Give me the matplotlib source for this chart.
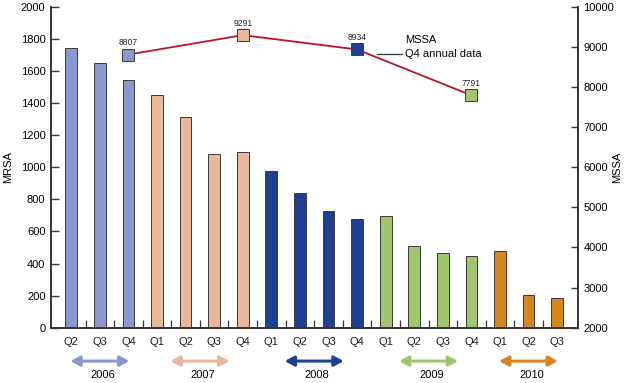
import matplotlib
matplotlib.use("Agg")
import matplotlib.pyplot as plt
import numpy as np

plt.rcParams['font.family'] = ['Liberation Sans', 'DejaVu Sans']

quarters = ["Q2", "Q3", "Q4",
            "Q1", "Q2", "Q3", "Q4",
            "Q1", "Q2", "Q3", "Q4",
            "Q1", "Q2", "Q3", "Q4",
            "Q1", "Q2", "Q3"]
bar_year = ["2006"] * 3 + ["2007"] * 4 + ["2008"] * 4 + ["2009"] * 4 + ["2010"] * 3
mrsa = [1745, 1650, 1545, 1448, 1310, 1084, 1095, 974, 837, 727, 679, 694,
        509, 463, 445, 480, 202, 185]
years = ["2006", "2007", "2008", "2009", "2010"]
year_colors = {"2006": "#8b97d1", "2007": "#e8b79c", "2008": "#1e3f92",
               "2009": "#9fc66c", "2010": "#d6861f"}
mssa_years = ["2006", "2007", "2008", "2009"]
mssa = [8807, 9291, 8934, 7791]

FS = 8

fig = plt.figure(figsize=(6.31, 3.83), dpi=100)
ax = fig.add_axes([51 / 631, 1 - 327.7 / 383, 526.7 / 631, 321 / 383])
ax2 = ax.twinx()

x = np.arange(len(mrsa))
colors = [year_colors[y] for y in bar_year]
ax.bar(x, mrsa, width=0.41, color=colors, edgecolor="#3a3a3a", linewidth=0.7, zorder=2)

ax.set_xlim(-0.71, len(mrsa) - 1 + 0.72)
ax.set_ylim(0, 2000)
ax.set_yticks(np.arange(0, 2001, 200))
ax2.set_ylim(2000, 10000)
ax2.set_yticks(np.arange(2000, 10001, 1000))

ax.set_xticks(x)
ax.set_xticklabels(quarters)
ax.set_xticks(x[:-1] + 0.5, minor=True)
ax.tick_params(axis="x", which="major", length=0, pad=7, labelsize=FS, colors="#1a1a1a")
ax.tick_params(axis="x", which="minor", direction="in", length=6, width=0.9, color="#333333")
ax.tick_params(axis="y", direction="in", length=6, width=1.0, pad=4, labelsize=FS, color="#333333")
ax2.tick_params(axis="y", direction="in", length=5, width=1.0, pad=4, labelsize=FS, color="#333333")

for a in (ax, ax2):
    a.spines["top"].set_visible(False)
    for s in ("left", "right", "bottom"):
        a.spines[s].set_linewidth(1.2)
        a.spines[s].set_color("#333333")

ax.set_ylabel("MRSA", fontsize=FS)
ax.yaxis.set_label_coords(-0.071, 0.5)
ax2.set_ylabel("MSSA", fontsize=FS)
ax2.yaxis.set_label_coords(1.0646, 0.5)

# MSSA Q4 annual line
q4_idx = [i for i, (q, y) in enumerate(zip(quarters, bar_year)) if q == "Q4" and y in mssa_years]
ax2.plot(q4_idx, mssa, color="#b3162a", linewidth=1.3, zorder=3)
for xi, v, y in zip(q4_idx, mssa, mssa_years):
    ax2.plot(xi, v, marker="s", markersize=8.8, markerfacecolor=year_colors[y],
             markeredgecolor="#3a3a3a", markeredgewidth=0.7, zorder=4)
    ax2.annotate(str(v), (xi, v), xytext=(0, 5.5), textcoords="offset points",
                 ha="center", va="bottom", fontsize=6.2, color="#222222")

# legend-like annotation
ax2.plot([10.68, 11.56], [8825, 8825], color="#333333", linewidth=0.9)
ax2.text(11.69, 9180, "MSSA", fontsize=FS, va="center", ha="left")
ax2.text(11.69, 8825, "Q4 annual data", fontsize=FS, va="center", ha="left")

# year arrows
trans = ax.get_xaxis_transform()
for yr in years:
    idx = [i for i, y in enumerate(bar_year) if y == yr]
    c = (idx[0] + idx[-1]) / 2
    ax.annotate("", xy=(c - 1.03, -0.104), xytext=(c + 1.03, -0.104),
                xycoords=trans, textcoords=trans,
                arrowprops=dict(arrowstyle="<|-|>,head_length=0.55,head_width=0.3",
                                color=year_colors[yr], lw=2.2, shrinkA=0, shrinkB=0),
                annotation_clip=False)
    ax.text(c + 0.1, -0.146, yr, transform=trans, ha="center", va="center", fontsize=FS)

fig.savefig("out.png", dpi=100)
